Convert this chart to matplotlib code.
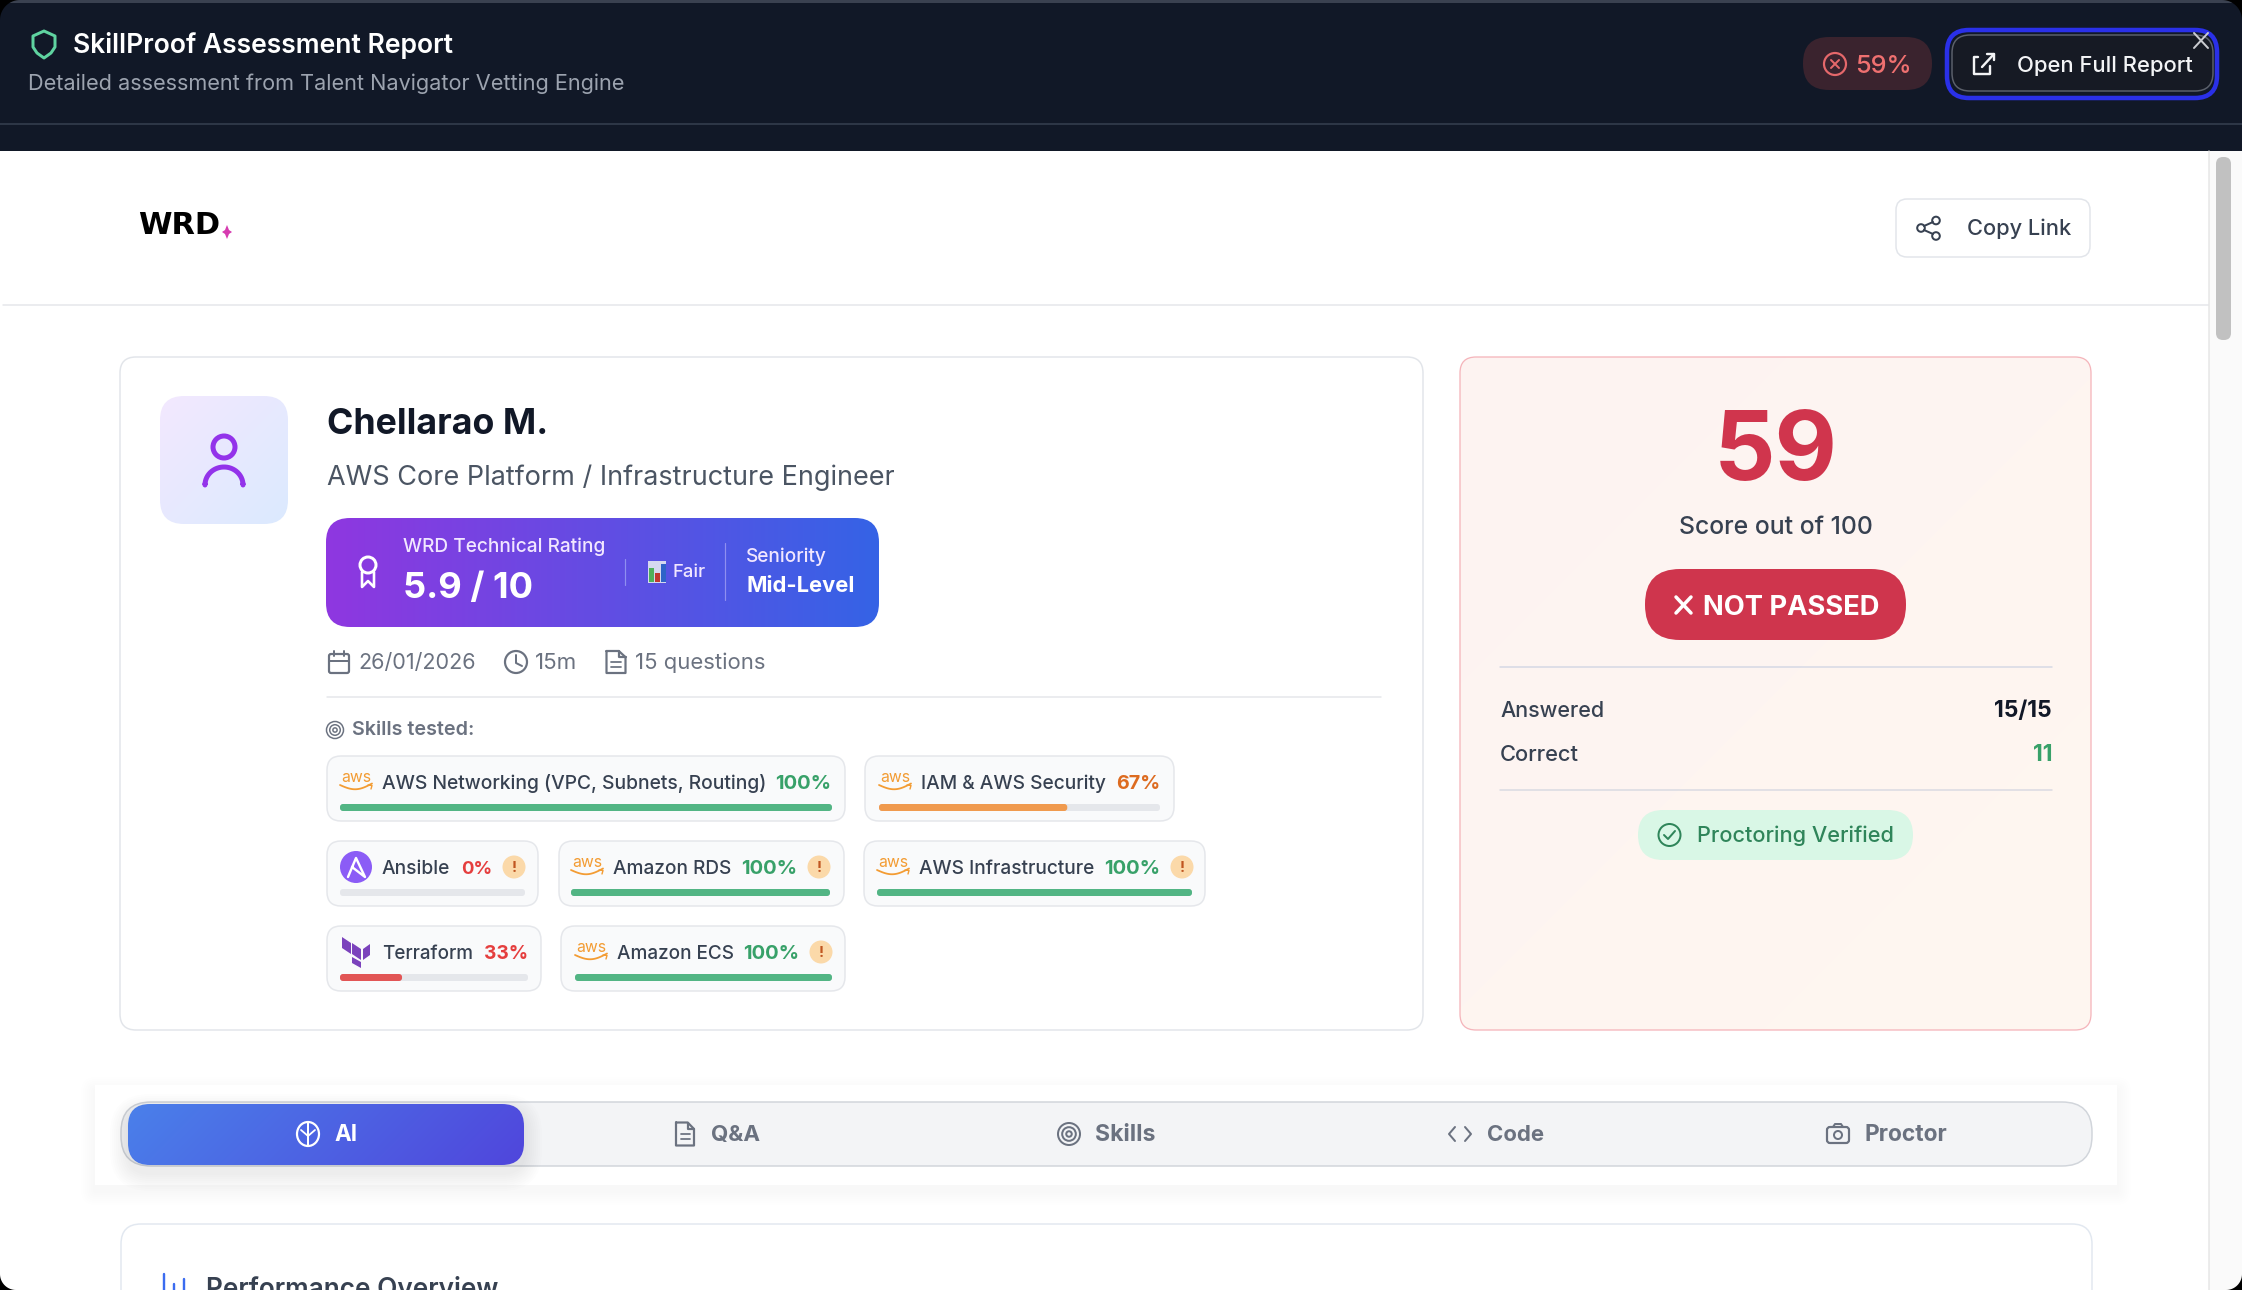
# recreate the SkillProof assessment report screen

import numpy as np
import matplotlib
matplotlib.use('Agg')
import matplotlib.pyplot as plt
from matplotlib.colors import to_rgb
from matplotlib.patches import Circle, Ellipse, FancyBboxPatch, Polygon, Rectangle

plt.rcParams['font.family'] = ['Inter', 'Noto Sans', 'DejaVu Sans']

# chart values
skill_names = ['AWS Networking (VPC, Subnets, Routing)', 'IAM & AWS Security', 'Ansible', 'Amazon RDS',
               'AWS Infrastructure', 'Terraform', 'Amazon ECS']
skill_scores = [100, 67, 0, 100, 100, 33, 100]
skill_flagged = [False, False, True, True, True, False, True]
skill_logos = ['aws', 'aws', 'ansible', 'aws', 'aws', 'terraform', 'aws']
tab_names = ['AI', 'Q&A', 'Skills', 'Code', 'Proctor']
score = 59
rating = '5.9 / 10'
answered = '15/15'
correct = '11'

# layout of the skill chips, in screen pixels
chip_left = [327, 865, 327, 559, 864, 327, 561]
chip_right = [845, 1174, 538, 844, 1205, 541, 845]
chip_top = [756, 756, 841, 841, 841, 926, 926]
chip_bottom = [821, 821, 906, 906, 906, 991, 991]
bar_left = [340, 879, 340, 571, 877, 340, 575]
bar_right = [832, 1160, 525, 830, 1192, 528, 832]
label_left = [382, 921, 382, 613, 919, 382, 617]
label_width = [384, 185, 68, 118, 175, 91, 117]
pct_right = [831, 1160, 492, 797, 1160, 528, 799]
pct_width = [56, 44, 31, 56, 56, 44, 56]
tab_icon_x = [308, 685, 1069, 1460, 1838]
tab_text_left = [334, 711, 1095, 1487, 1864]
tab_text_width = [23, 49, 60, 57, 83]

W, H = 2242, 1290
fig = plt.figure(figsize=(W / 100, H / 100), dpi=100, facecolor='white')
ax = fig.add_axes([0, 0, 1, 1])
ax.set_xlim(0, W)
ax.set_ylim(H, 0)
ax.set_autoscale_on(False)
ax.axis('off')
renderer = fig.canvas.get_renderer()


def px(n):
    return n * 0.72


def text(x, y, s, size, color, weight='normal', ha='left', width=None, z=10, family=None):
    # y is the middle of the capitals, size is in pixels, width fits the text to a measured width
    base = y + 0.364 * size - 1.5
    t = ax.text(x, base, s, fontsize=px(size), color=color, fontweight=weight, ha=ha, va='baseline', zorder=z)
    if family:
        t.set_family(family)
    if width:
        t.set_fontsize(t.get_fontsize() * width / t.get_window_extent(renderer).width)
    return t


def rounded(x0, y0, x1, y1, r, fc='none', ec='none', lw=0, z=2, alpha=None):
    p = FancyBboxPatch((x0, y0), x1 - x0, y1 - y0, boxstyle=f'round,pad=0,rounding_size={r}',
                       fc=fc, ec=ec, lw=px(lw), zorder=z, alpha=alpha)
    ax.add_patch(p)
    return p


def gradient(x0, y0, x1, y1, r, c0, c1, angle=0, z=3):
    u, v = np.meshgrid(np.linspace(0, 1, 200), np.linspace(0, 1, 200))
    a = np.deg2rad(angle)
    g = u * np.cos(a) * (x1 - x0) + v * np.sin(a) * (y1 - y0)
    g = (g - g.min()) / (g.max() - g.min())
    c0, c1 = np.array(to_rgb(c0)), np.array(to_rgb(c1))
    img = c0 + (c1 - c0) * g[..., None]
    im = ax.imshow(img, extent=(x0, x1, y1, y0), origin='upper', aspect='auto', zorder=z, interpolation='bilinear')
    p = rounded(x0, y0, x1, y1, r, z=z)
    im.set_clip_path(p)


def shadow(x0, y0, x1, y1, r, dy, spread, alpha, color='#1f2937', z=1.5):
    for i in range(spread, 0, -2):
        rounded(x0 - i, y0 + dy - i, x1 + i, y1 + dy + i, r + i, fc=color, z=z, alpha=alpha)


def line(xs, ys, color, lw=2.5, z=8):
    ax.plot(xs, ys, color=color, lw=px(lw), solid_capstyle='round', solid_joinstyle='round', zorder=z)


def ring(x, y, r, color, lw=2.5, fc='none', z=8):
    ax.add_patch(Circle((x, y), r, fc=fc, ec=color, lw=px(lw), zorder=z))


def doc_icon(x, y, w, h, color, lw=2.2):
    line([x - w / 2, x + w * 0.15, x + w / 2, x + w / 2, x - w / 2, x - w / 2],
         [y - h / 2, y - h / 2, y - h * 0.22, y + h / 2, y + h / 2, y - h / 2], color, lw)
    line([x + w * 0.15, x + w * 0.15, x + w / 2], [y - h / 2, y - h * 0.22, y - h * 0.22], color, lw)
    for k in [0.0, 0.22]:
        line([x - w * 0.25, x + w * 0.25], [y + h * k, y + h * k], color, lw * 0.8)


def target_icon(x, y, r, color, lw=2):
    for f in [1, 0.62, 0.25]:
        ring(x, y, r * f, color, lw)


def aws_logo(x, y):
    # x is the left edge, y the vertical middle of the chip's top row
    text(x + 1, y - 6.5, 'aws', 22, '#f39c33', width=30)
    t = np.linspace(0, 1, 20)
    line(x + 32 * t, y + 3 + 5 * np.sin(np.pi * t) - 1.5 * t, '#f39c33', 1.8)
    line([x + 28, x + 32, x + 31], [y + 3, y + 3.5, y + 7], '#f39c33', 1.4)


def warn_badge(x, y):
    ax.add_patch(Ellipse((x, y), 23, 23, fc='#fbd9a9', zorder=8))
    text(x, y + 1, '!', 15, '#c05621', 'bold', ha='center')


# window background and the dark header
ax.add_patch(Rectangle((0, 0), W, H, fc='white', zorder=0))
ax.add_patch(Rectangle((0, 2), W, 149, fc='#111827', zorder=1))
ax.add_patch(Rectangle((0, 0), W, 3, fc='#3a4150', zorder=1.1))
line([0, W], [124, 124], '#374151', 1.5, z=2)

shield = [(44, 31), (33, 36), (33, 47), (37, 53), (44, 58), (51, 53), (55, 47), (55, 36)]
ax.add_patch(Polygon(shield, closed=True, fc='none', ec='#5fd3a0', lw=px(3), zorder=5, joinstyle='round'))
text(73, 44, 'SkillProof Assessment Report', 28, 'white', 600, width=380)
text(28, 83, 'Detailed assessment from Talent Navigator Vetting Engine', 23, '#9ca3af', width=597)

rounded(1803, 37, 1932, 90, 26, fc='#3a232e', z=3)
ring(1835, 64, 11, '#e5686b', 2.2)
line([1831, 1839], [60, 68], '#e5686b', 2)
line([1839, 1831], [60, 68], '#e5686b', 2)
text(1855, 64, f'{score}%', 28, '#ef7070', 500, width=57)

rounded(1947, 30, 2217, 98, 22, fc='#111827', ec='#2a30e8', lw=4.5, z=3)
rounded(1952, 35, 2213, 91, 18, fc='#161a24', ec='#5b606b', lw=1.5, z=4)
line([1978, 1974, 1974, 1990, 1990], [57, 57, 74, 74, 66], '#f3f4f6', 2.4)
line([1982, 1994], [67, 54], '#f3f4f6', 2.4)
line([1987, 1994, 1994], [54, 54, 60], '#f3f4f6', 2.4)
text(2017, 65, 'Open Full Report', 24, '#f3f4f6', 500, width=176)
line([2194, 2208], [33, 48], '#c9cbd0', 2)
line([2208, 2194], [33, 48], '#c9cbd0', 2)

# top bar of the page
text(138, 226, 'WRD', 27, 'black', 'bold', width=82, family=['DejaVu Sans'])
ax.add_patch(Polygon([(227, 225), (229, 230), (232, 232), (229, 234), (227, 239), (225, 234), (222, 232), (225, 230)],
                     fc='#d63bb0', zorder=8))
line([3, 2209], [305, 305], '#e5e7eb', 1.5, z=2)
rounded(1896, 199, 2090, 257, 11, fc='white', ec='#e2e5ea', lw=1.5)
for cx, cy in [(1936, 220.5), (1921, 228), (1936, 236)]:
    ring(cx, cy, 3.8, '#374151', 2)
line([1924, 1933], [226, 222], '#374151', 2)
line([1924, 1933], [230, 234], '#374151', 2)
text(1967, 228, 'Copy Link', 24, '#374151', 500, width=104)

# scrollbar
ax.add_patch(Rectangle((2209, 151), 33, H - 151, fc='#fafafa', ec='none', zorder=2))
line([2209, 2209], [151, H], '#e6e6e6', 1.5, z=3)
rounded(2216, 157, 2231, 340, 7, fc='#c1c1c1', z=4)

# candidate card
rounded(120, 357, 1423, 1030, 16, fc='white', ec='#e2e5ea', lw=1.5)
gradient(160, 396, 288, 524, 24, '#f3e8ff', '#dbeafe', 45)
ring(224, 447, 11, '#9333ea', 5)
t = np.linspace(np.pi, 2 * np.pi, 30)
line(np.r_[205, 224 + 19 * np.cos(t), 243], np.r_[484, 485 + 18 * np.sin(t), 484], '#9333ea', 5)

text(327, 422, 'Chellarao M.', 38, '#111827', 'bold', width=221)
text(327, 476, 'AWS Core Platform / Infrastructure Engineer', 29, '#4b5563', width=567)

shadow(326, 518, 879, 627, 24, 10, 22, 0.01, color='#4c1d95')
gradient(326, 518, 879, 627, 24, '#8f37e0', '#3563e6', 0)
ring(368, 565, 8, 'white', 3, z=8)
line([362, 362, 368, 374, 374], [572, 587, 581, 587, 572], 'white', 2.6)
text(403, 547, 'WRD Technical Rating', 19, '#f1e6ff', 500, width=202)
text(403, 586, rating, 38, 'white', 'bold', width=130)
line([625, 625], [559, 585], '#8f8ff0', 1.2)
# chart emoji next to the Fair label
ax.add_patch(Rectangle((648, 561), 18, 22, fc='#d5d8ef', zorder=8))
for bx, by, bc in [(649, 568, '#4fb05a'), (655, 573, '#c0392f'), (661, 564, '#2f63c8')]:
    ax.add_patch(Rectangle((bx, by), 4.5, 582 - by, fc=bc, zorder=9))
text(673, 572, 'Fair', 19, '#f1e6ff', 500, width=33)
line([725, 725], [543, 600], '#8f8ff0', 1.2)
text(746, 557, 'Seniority', 19, '#f1e6ff', 500, width=81)
text(746, 585, 'Mid-Level', 23, 'white', 'bold', width=108)

# meta row
rounded(329, 654, 349, 673, 2, ec='#6b7280', lw=2.2, z=8)
line([329, 349], [661, 661], '#6b7280', 2)
line([334, 334], [651, 656], '#6b7280', 2)
line([344, 344], [651, 656], '#6b7280', 2)
text(358, 662, '26/01/2026', 23, '#6b7280', width=118)
ring(516, 662, 11, '#6b7280', 2.2)
line([516, 516, 522], [655, 663, 666], '#6b7280', 2)
text(535, 662, '15m', 23, '#6b7280', width=42)
doc_icon(616, 662, 19, 22, '#6b7280')
text(635, 662, '15 questions', 23, '#6b7280', width=130)
line([327, 1381], [697, 697], '#e5e7eb', 1.5, z=3)

# skills
target_icon(335, 730, 8.5, '#6b7280', 1.5)
text(352, 730, 'Skills tested:', 19, '#6b7280', 600, width=122)
for i, name in enumerate(skill_names):
    s = skill_scores[i]
    rounded(chip_left[i], chip_top[i], chip_right[i], chip_bottom[i], 14, fc='#f9fafb', ec='#e5e7eb', lw=1.5, z=3)
    bar_y = chip_bottom[i] - 17
    x0, x1 = bar_left[i], bar_right[i]
    rounded(x0, bar_y, x1, bar_y + 7, 3, fc='#e5e7eb', z=4)
    if s >= 75:
        fill, pct_c = '#52b584', '#38a169'
    elif s >= 50:
        fill, pct_c = '#f09a4e', '#dd6b20'
    else:
        fill, pct_c = '#e25555', '#e53e3e'
    if s > 0:
        rounded(x0, bar_y, x0 + (x1 - x0) * s / 100, bar_y + 7, 3, fc=fill, z=5)
    y = chip_top[i] + 26
    if skill_logos[i] == 'aws':
        aws_logo(x0, y)
    elif skill_logos[i] == 'ansible':
        ax.add_patch(Circle((x0 + 16, y), 16, fc='#8b5cf6', zorder=8))
        line([x0 + 8, x0 + 16, x0 + 25, x0 + 12], [y + 10, y - 9, y + 10, y], 'white', 2.4, z=9)
    else:
        pieces = [[(2, -15), (11, -9), (11, 2), (2, -4)], [(12, -9), (21, -3), (21, 8), (12, 2)],
                  [(23, -3), (30, -8), (30, 3), (23, 8)], [(12, 5), (21, 10), (21, 16), (12, 11)]]
        for piece in pieces:
            ax.add_patch(Polygon([(x0 + a, y + b) for a, b in piece], fc='#7b42bc', zorder=8))
    text(label_left[i], y + 1, name, 19.5, '#374151', 500, width=label_width[i])
    text(pct_right[i], y + 1, f'{s}%', 19.5, pct_c, 'bold', ha='right', width=pct_width[i])
    if skill_flagged[i]:
        warn_badge(pct_right[i] + 22, y)

# score card
gradient(1460, 357, 2091, 1030, 16, '#fdf3f2', '#fff7f0', 45, z=1.9)
rounded(1460, 357, 2091, 1030, 16, ec='#f5b5bb', lw=1.3, z=2)
text(1776, 446, str(score), 97, '#d0354d', 'bold', ha='center', width=124)
text(1776, 526, 'Score out of 100', 26, '#374151', 500, ha='center', width=194)
rounded(1645, 569, 1906, 640, 35, fc='#cf354d', z=3)
line([1676, 1691], [597, 613], 'white', 3.5)
line([1691, 1676], [597, 613], 'white', 3.5)
text(1703, 606, 'NOT PASSED', 30, 'white', 'bold', width=177)
line([1500, 2052], [667, 667], '#d5d8e5', 1.5, z=3)
text(1500, 710, 'Answered', 23, '#374151', 500, width=104)
text(2052, 710, answered, 23, '#111827', 'bold', ha='right')
text(1500, 754, 'Correct', 23, '#374151', 500, width=79)
text(2052, 754, correct, 23, '#38a169', 'bold', ha='right')
line([1500, 2052], [790, 790], '#d9dae2', 1.5, z=3)
rounded(1638, 810, 1913, 860, 25, fc='#d9f7e6', z=3)
ring(1669.5, 835, 11, '#2f855a', 2)
line([1664, 1668, 1675], [835, 839, 831], '#2f855a', 2)
text(1697, 835, 'Proctoring Verified', 24, '#2f855a', 500, width=197)

# tabs
shadow(95, 1085, 2117, 1185, 1, 6, 14, 0.005)
ax.add_patch(Rectangle((95, 1085), 2022, 100, fc='white', zorder=2))
rounded(121, 1102, 2092, 1166, 30, fc='#f3f4f6', ec='#d1d5db', lw=1.5, z=3)
shadow(128, 1104, 524, 1165, 22, 8, 18, 0.006, z=3.5)
gradient(128, 1104, 524, 1165, 22, '#4a80ea', '#5046dc', 45, z=4)
for i, name in enumerate(tab_names):
    c = 'white' if i == 0 else '#6b7280'
    text(tab_text_left[i], 1134, name, 23, c, 'bold', width=tab_text_width[i])
    cx = tab_icon_x[i]
    if name == 'AI':
        ax.add_patch(Ellipse((cx, 1134), 22, 24, fc='none', ec='white', lw=px(2.2), zorder=8))
        line([cx, cx], [1122, 1146], 'white', 2)
        line([cx - 7, cx, cx + 7], [1130, 1136, 1130], 'white', 1.8)
    elif name == 'Q&A':
        doc_icon(cx, 1134, 18, 23, c)
    elif name == 'Skills':
        target_icon(cx, 1134, 11, c, 2)
    elif name == 'Code':
        line([cx - 5, cx - 11, cx - 5], [1127, 1134, 1141], c, 2)
        line([cx + 5, cx + 11, cx + 5], [1127, 1134, 1141], c, 2)
    else:
        rounded(cx - 11, 1127, cx + 11, 1143, 3, ec=c, lw=2.2, z=8)
        line([cx - 5, cx - 3, cx + 3, cx + 5], [1127, 1124, 1124, 1127], c, 2)
        ring(cx, 1135, 4, c, 2)

# next card, cut off by the window
rounded(121, 1224, 2092, 1400, 20, fc='white', ec='#e2e8f0', lw=1.5)
for bx, bt in [(164, 1274), (174, 1284), (184, 1279)]:
    line([bx, bx], [bt, 1296], '#3b6cf0', 2.4)
text(206, 1288.5, 'Performance Overview', 28, '#374151', 600, width=292)

# black window corners
for cx, cy, sx, sy, r in [(0, 0, 1, 1, 20), (W, 0, -1, 1, 20), (0, H, 1, -1, 16), (W, H, -1, -1, 16)]:
    t = np.linspace(0, np.pi / 2, 20)
    pts = [(cx, cy)] + [(cx + sx * (r - r * np.cos(a)), cy + sy * (r - r * np.sin(a))) for a in t]
    ax.add_patch(Polygon(pts, fc='black', zorder=20))

fig.savefig('out.png', dpi=100)
